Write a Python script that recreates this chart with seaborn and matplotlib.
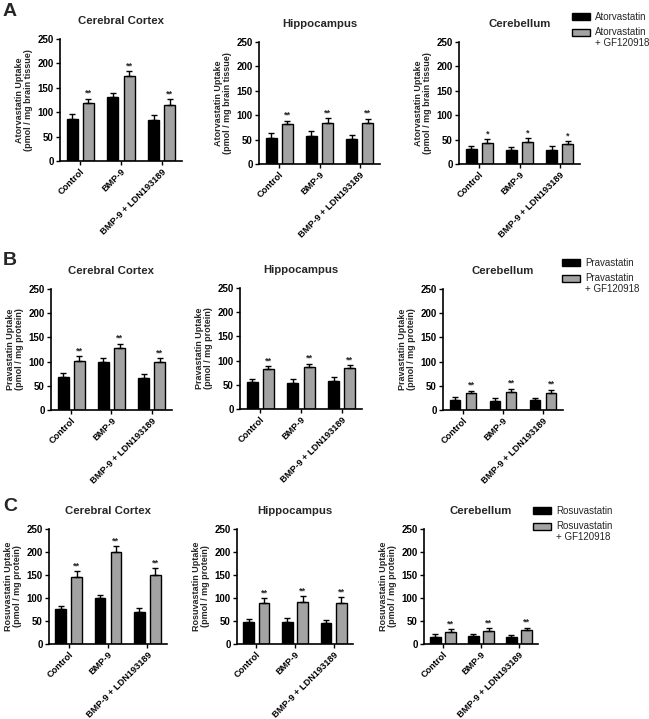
import matplotlib
matplotlib.use("Agg")
import matplotlib.pyplot as plt
import seaborn as sns
import pandas as pd
from matplotlib.legend_handler import HandlerPatch
from matplotlib.patches import Rectangle

sns.set_theme(style="ticks")
plt.rcParams["font.family"] = ["Liberation Sans", "DejaVu Sans"]

regions = ["Cerebral Cortex", "Hippocampus", "Cerebellum"]
conditions = ["Control", "BMP-9", "BMP-9 + LDN193189"]

# rows = region (cortex, hippocampus, cerebellum), cols = condition
atorva = [[86, 132, 84], [54, 58, 51], [30, 28, 29]]
atorva_err = [[10, 8, 10], [9, 9, 9], [7, 7, 7]]
atorva_gf = [[119, 175, 114], [81, 85, 84], [43, 46, 40]]
atorva_gf_err = [[9, 9, 13], [8, 9, 9], [8, 7, 7]]
atorva_stars = ["**", "**", "*"]

prava = [[69, 99, 66], [55, 54, 58], [21, 19, 20]]
prava_err = [[8, 9, 9], [8, 8, 9], [6, 6, 5]]
prava_gf = [[102, 129, 100], [82, 87, 84], [35, 38, 36]]
prava_gf_err = [[9, 8, 7], [6, 6, 6], [5, 6, 6]]
prava_stars = ["**", "**", "**"]

rosuva = [[76, 100, 70], [48, 48, 46], [16, 17, 15]]
rosuva_err = [[7, 7, 9], [6, 8, 7], [5, 5, 5]]
rosuva_gf = [[146, 200, 150], [90, 92, 89], [27, 29, 30]]
rosuva_gf_err = [[12, 12, 15], [10, 12, 13], [5, 5, 5]]
rosuva_stars = ["**", "**", "**"]

statins = ["Atorvastatin", "Pravastatin", "Rosuvastatin"]
ylabels = ["Atorvastatin Uptake\n(pmol / mg brain tissue)",
           "Pravastatin Uptake\n(pmol / mg protein)",
           "Rosuvastatin Uptake\n(pmol / mg protein)"]
letters = ["A", "B", "C"]

rows = [
    (atorva, atorva_err, atorva_gf, atorva_gf_err, atorva_stars),
    (prava, prava_err, prava_gf, prava_gf_err, prava_stars),
    (rosuva, rosuva_err, rosuva_gf, rosuva_gf_err, rosuva_stars),
]

W, H = 649, 719
fig = plt.figure(figsize=(W / 100, H / 100), dpi=100)

# axes boxes in pixels: left, bottom (from top), width, height
boxes = [
    [(60, 161, 122, 122), (259, 164, 121, 122), (459, 164, 121, 122)],
    [(51, 410, 121, 121), (240, 409, 122, 121), (443, 410, 120, 121)],
    [(49, 644, 118, 115), (237, 644, 116, 115), (424, 644, 114, 115)],
]
legend_pos = [(572, 12), (562, 258), (533, 506)]
letter_pos = [(3, 3), (3, 252), (3, 498)]

black = "#000000"
gray = "#a3a3a3"


def top_box(legend, orig_handle, xdescent, ydescent, width, height, fontsize):
    # align the box with the first line of a two-line label
    return Rectangle((-xdescent, -ydescent + 0.6 * fontsize), width, height)


for r, (alone, alone_err, gf, gf_err, stars) in enumerate(rows):
    lab1 = statins[r]
    lab2 = statins[r] + "\n+ GF120918"
    for j, region in enumerate(regions):
        l, b, w, h = boxes[r][j]
        ax = fig.add_axes([l / W, 1 - b / H, w / W, h / H])
        df = pd.DataFrame({
            "condition": conditions * 2,
            "group": [lab1] * 3 + [lab2] * 3,
            "uptake": alone[j] + gf[j],
        })
        sns.barplot(data=df, x="condition", y="uptake", hue="group",
                    order=conditions, hue_order=[lab1, lab2],
                    palette=[black, gray], errorbar=None, width=0.8, gap=0.32,
                    edgecolor="black", linewidth=1, ax=ax, legend=(j == 2))
        for cont, errs in zip(ax.containers, [alone_err[j], gf_err[j]]):
            xs = [p.get_x() + p.get_width() / 2 for p in cont]
            ys = [p.get_height() for p in cont]
            ax.errorbar(xs, ys, yerr=[[0] * 3, errs], fmt="none", ecolor="black",
                        elinewidth=1, capsize=2.2, capthick=1, zorder=1)
        for p, e in zip(ax.containers[1], gf_err[j]):
            ax.text(p.get_x() + p.get_width() / 2, p.get_height() + e + 2,
                    stars[j], ha="center", va="bottom", fontsize=6.5,
                    fontweight="bold")

        ax.set_ylim(0, 250)
        ax.set_yticks(range(0, 251, 50))
        ax.set_xlim(-0.5, 2.5)
        ax.set_xticks(range(3))
        ax.set_xticklabels(conditions, rotation=45, ha="right",
                           rotation_mode="anchor", fontweight="bold", fontsize=6.6)
        ax.tick_params(direction="out", length=3, width=1, pad=1.5, colors="black")
        ax.tick_params(axis="y", labelsize=7)
        for t in ax.get_yticklabels():
            t.set_fontweight("bold")
        sns.despine(ax=ax)
        for s in ["left", "bottom"]:
            ax.spines[s].set_linewidth(1.2)
            ax.spines[s].set_color("black")
        ax.set_xlabel("")
        ax.set_ylabel(ylabels[r], fontsize=6.5, fontweight="bold", labelpad=3,
                      linespacing=1.1)
        ax.set_title(region, fontsize=8.2, fontweight="bold", pad=10.5)

        if j == 2:
            old = ax.get_legend()
            handles = old.legend_handles
            labels = [t.get_text() for t in old.get_texts()]
            old.remove()
            lx, ly = legend_pos[r]
            ax.legend(handles, labels,
                      handler_map={handles[1]: HandlerPatch(patch_func=top_box)},
                      loc="upper left", bbox_to_anchor=(lx / W, 1 - ly / H),
                      bbox_transform=fig.transFigure, frameon=False,
                      fontsize=7, handlelength=1.8, handleheight=0.7,
                      handletextpad=0.6, labelspacing=0.5, borderpad=0,
                      borderaxespad=0)

    lx, ly = letter_pos[r]
    fig.text(lx / W, 1 - ly / H, letters[r], fontsize=14, fontweight="bold",
             ha="left", va="top")

fig.savefig("out.png", dpi=100)
